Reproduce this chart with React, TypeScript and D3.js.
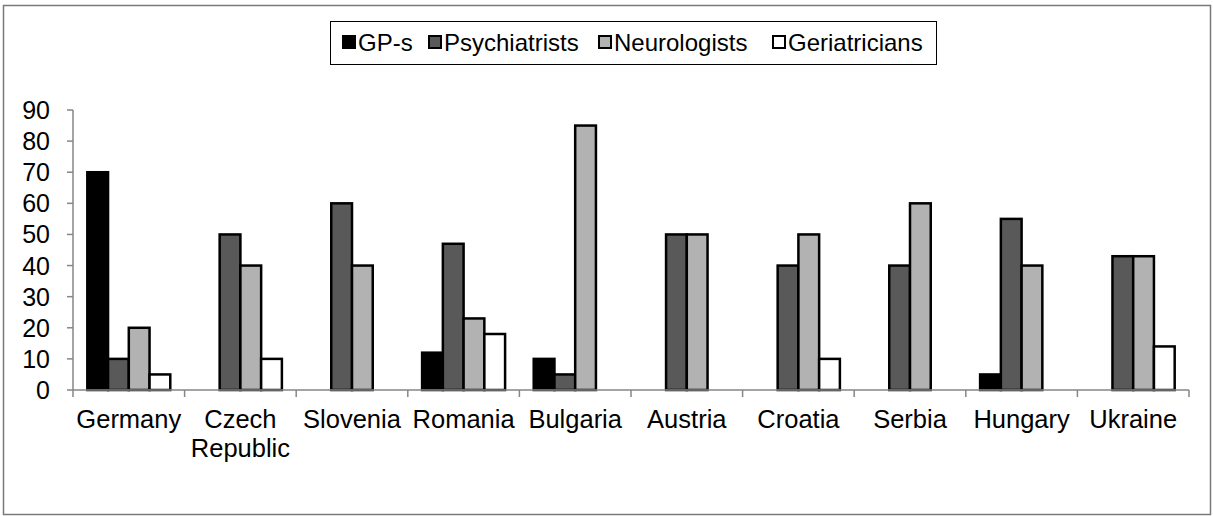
import React from "react";
import * as d3 from "d3";

const countries = [
  "Germany",
  "Czech Republic",
  "Slovenia",
  "Romania",
  "Bulgaria",
  "Austria",
  "Croatia",
  "Serbia",
  "Hungary",
  "Ukraine",
];
const seriesNames = ["GP-s", "Psychiatrists", "Neurologists", "Geriatricians"];
const gps = [70, 0, 0, 12, 10, 0, 0, 0, 5, 0];
const psychiatrists = [10, 50, 60, 47, 5, 50, 40, 40, 55, 43];
const neurologists = [20, 40, 40, 23, 85, 50, 50, 60, 40, 43];
const geriatricians = [5, 10, 0, 18, 0, 0, 10, 0, 0, 14];
const yTicks = [0, 10, 20, 30, 40, 50, 60, 70, 80, 90];
const colors = ["#000000", "#595959", "#b2b2b2", "#ffffff"];

const W = 1213,
  H = 516;
const margin = { top: 110, right: 24, bottom: 126, left: 73 };
const FONT = "'Liberation Sans', Arial, sans-serif";

export default function App() {
  const values = [gps, psychiatrists, neurologists, geriatricians];

  const x = d3
    .scaleBand()
    .domain(countries)
    .range([margin.left, W - margin.right])
    .paddingInner(0)
    .paddingOuter(0);

  const sub = d3
    .scaleBand()
    .domain(seriesNames)
    .range([0, x.bandwidth()])
    .paddingInner(0)
    .paddingOuter(0.69);

  const y = d3
    .scaleLinear()
    .domain([0, 90])
    .range([H - margin.bottom, margin.top]);

  const bars = [];
  countries.forEach((c, i) => {
    seriesNames.forEach((s, j) => {
      const v = values[j][i];
      if (!v) return;
      bars.push({ c, s, v, j });
    });
  });

  const legendX = [343, 429, 599, 773];
  const axisColor = "#868686";

  return (
    <svg
      width={W}
      height={H}
      style={{ position: "absolute", left: 0, top: 0, background: "#fff" }}
      fontFamily={FONT}
    >
      <rect x={3.5} y={5.5} width={1207} height={509} fill="#fff" stroke="#7a7a7a" strokeWidth={1.5} />

      {/* legend */}
      <rect x={330.5} y={21.5} width={606} height={43} fill="#fff" stroke="#000" strokeWidth={1} />
      {seriesNames.map((s, j) => (
        <g key={s}>
          <rect
            x={legendX[j]}
            y={36}
            width={12}
            height={12}
            fill={colors[j]}
            stroke="#000"
            strokeWidth={2}
          />
          <text x={legendX[j] + 15} y={51} fontSize={24}>
            {s}
          </text>
        </g>
      ))}

      {/* y axis */}
      <line x1={margin.left} x2={margin.left} y1={y(90)} y2={y(0)} stroke={axisColor} strokeWidth={1.5} />
      {yTicks.map((t) => (
        <g key={t}>
          <line x1={margin.left - 6} x2={margin.left} y1={y(t)} y2={y(t)} stroke={axisColor} strokeWidth={1.5} />
          <text x={50} y={y(t)} dy="0.36em" textAnchor="end" fontSize={25}>
            {t}
          </text>
        </g>
      ))}

      {/* bars */}
      {bars.map((b) => (
        <rect
          key={b.c + b.s}
          x={x(b.c) + sub(b.s)}
          y={y(b.v)}
          width={sub.bandwidth()}
          height={y(0) - y(b.v)}
          fill={colors[b.j]}
          stroke="#000"
          strokeWidth={2.5}
        />
      ))}

      {/* x axis */}
      <line x1={margin.left} x2={W - margin.right} y1={y(0)} y2={y(0)} stroke={axisColor} strokeWidth={1.5} />
      {countries.concat([""]).map((c, i) => {
        const xx = margin.left + i * x.step();
        return <line key={"t" + i} x1={xx} x2={xx} y1={y(0)} y2={y(0) + 7} stroke={axisColor} strokeWidth={1.5} />;
      })}
      {countries.map((c) => {
        const cx = x(c) + x.bandwidth() / 2;
        const parts = c === "Czech Republic" ? ["Czech", "Republic"] : [c];
        return (
          <text key={c} x={cx} y={428} textAnchor="middle" fontSize={25.5}>
            {parts.map((p, k) => (
              <tspan key={p} x={cx} dy={k === 0 ? 0 : 29}>
                {p}
              </tspan>
            ))}
          </text>
        );
      })}
    </svg>
  );
}
